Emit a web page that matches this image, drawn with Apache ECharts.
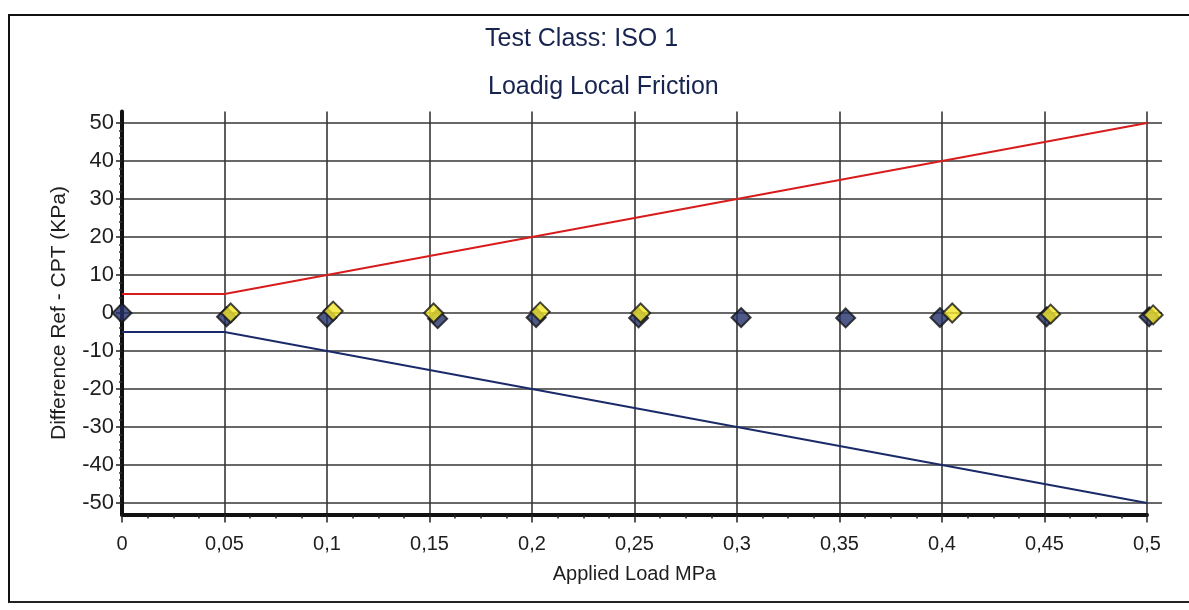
<!DOCTYPE html>
<html>
<head>
<meta charset="utf-8">
<title>Loadig Local Friction</title>
<script src="https://cdn.jsdelivr.net/npm/echarts@6/dist/echarts.min.js"></script>
<style>
  html, body { margin: 0; padding: 0; background: #fff; }
  #chart_box { width: 1189px; height: 610px; }
  .frame {
    position: absolute; left: 8px; top: 14px; width: 1190px; height: 585px;
    border-top: 2px solid #111; border-left: 2px solid #111; border-bottom: 2px solid #222;
    pointer-events: none;
  }
</style>
</head>
<body>
<div id="chart_box"></div>
<div class="frame"></div>
<script>
// load steps (MPa) for the tolerance lines
const loads = [0, 0.05, 0.1, 0.15, 0.2, 0.25, 0.3, 0.35, 0.4, 0.45, 0.5];
// upper / lower tolerance (kPa)
const upperLimit = [5, 5, 10, 15, 20, 25, 30, 35, 40, 45, 50];
const lowerLimit = [-5, -5, -10, -15, -20, -25, -30, -35, -40, -45, -50];

// measured differences, [load MPa, diff kPa]
const seriesBlue = [
  [0, 0], [0.051, -1], [0.1, -1.2], [0.154, -1.5], [0.202, -1.2], [0.252, -1.3],
  [0.302, -1.2], [0.353, -1.3], [0.399, -1.2], [0.451, -1], [0.501, -1]
];
const seriesYellow = [
  [0.053, 0], [0.103, 0.5], [0.152, 0], [0.204, 0.3], [0.253, 0],
  [0.405, 0], [0.453, -0.3], [0.503, -0.5]
];

const yTicks = { min: -50, max: 50, step: 10 };
const xTicks = { min: 0, max: 0.5, step: 0.05 };

const upperData = loads.map((x, i) => [x, upperLimit[i]]);
const lowerData = loads.map((x, i) => [x, lowerLimit[i]]);

const textColor = '#1e1e1e';
const gridColor = '#363636';
const font = 'Liberation Sans, Arial, sans-serif';

let myChart = echarts.init(document.getElementById('chart_box'));

const option = {
  backgroundColor: '#fff',
  animation: false,
  title: [
    {
      text: 'Test Class: ISO 1',
      left: 480, top: 22,
      textStyle: { fontFamily: font, fontSize: 25, fontWeight: 'normal', color: '#17244f' }
    },
    {
      text: 'Loadig Local Friction',
      left: 483, top: 70,
      textStyle: { fontFamily: font, fontSize: 25, fontWeight: 'normal', color: '#17244f' }
    }
  ],
  grid: [
    // horizontal grid lines + y labels (-50..50)
    { left: 122, right: 27, top: 123, height: 380 },
    // data grid, axis lines slightly beyond +-50
    { left: 122, right: 42, top: 111.6, height: 402.8 }
  ],
  xAxis: [
    { gridIndex: 0, type: 'value', min: 0, max: 1, show: false },
    {
      gridIndex: 1,
      type: 'value',
      min: xTicks.min, max: xTicks.max, interval: xTicks.step,
      name: 'Applied Load MPa',
      nameLocation: 'middle',
      nameGap: 50,
      nameTextStyle: { fontFamily: font, fontSize: 20, color: textColor },
      axisLine: { show: true, onZero: false, lineStyle: { color: '#111', width: 4 } },
      axisTick: { show: true, inside: false, length: 8, lineStyle: { color: '#222', width: 1.5 } },
      minorTick: { show: true, splitNumber: 4, length: 4, lineStyle: { color: '#222', width: 1.5 } },
      axisLabel: {
        margin: 20,
        fontFamily: font, fontSize: 20, color: textColor,
        formatter: function (v) { return String(+v.toFixed(2)).replace('.', ','); }
      },
      splitLine: { show: true, lineStyle: { color: gridColor, width: 1.6 } }
    }
  ],
  yAxis: [
    {
      gridIndex: 0,
      type: 'value',
      min: yTicks.min, max: yTicks.max, interval: yTicks.step,
      name: 'Difference Ref - CPT (KPa)',
      nameLocation: 'middle',
      nameGap: 52,
      nameTextStyle: { fontFamily: font, fontSize: 21, color: textColor },
      axisLine: { show: false },
      axisTick: { show: true, length: 6, lineStyle: { color: '#222', width: 1.5 } },
      minorTick: { show: true, splitNumber: 5, length: 3, lineStyle: { color: '#333', width: 1.5 } },
      axisLabel: { margin: 8, fontFamily: font, fontSize: 22, color: textColor },
      splitLine: { show: true, lineStyle: { color: gridColor, width: 1.6 } }
    },
    {
      gridIndex: 1,
      type: 'value',
      min: -53, max: 53,
      axisLine: { show: true, onZero: false, lineStyle: { color: '#111', width: 4 } },
      axisTick: { show: false },
      axisLabel: { show: false },
      splitLine: { show: false }
    }
  ],
  series: [
    {
      name: 'upper',
      type: 'line',
      xAxisIndex: 1, yAxisIndex: 1,
      data: upperData,
      symbol: 'none',
      lineStyle: { color: '#d81c1c', width: 2 },
      z: 3
    },
    {
      name: 'lower',
      type: 'line',
      xAxisIndex: 1, yAxisIndex: 1,
      data: lowerData,
      symbol: 'none',
      lineStyle: { color: '#1b2a68', width: 2 },
      z: 3
    },
    {
      name: 'blue',
      type: 'scatter',
      xAxisIndex: 1, yAxisIndex: 1,
      data: seriesBlue,
      clip: false,
      symbol: 'diamond',
      symbolSize: 19,
      itemStyle: { color: '#222f6a', borderColor: '#151515', borderWidth: 2 },
      z: 4
    },
    {
      name: 'yellow',
      type: 'scatter',
      xAxisIndex: 1, yAxisIndex: 1,
      data: seriesYellow,
      clip: false,
      symbol: 'diamond',
      symbolSize: 19,
      itemStyle: { color: '#f3e62a', borderColor: '#151515', borderWidth: 2 },
      z: 5
    }
  ]
};

myChart.setOption(option);
</script>
</body>
</html>
